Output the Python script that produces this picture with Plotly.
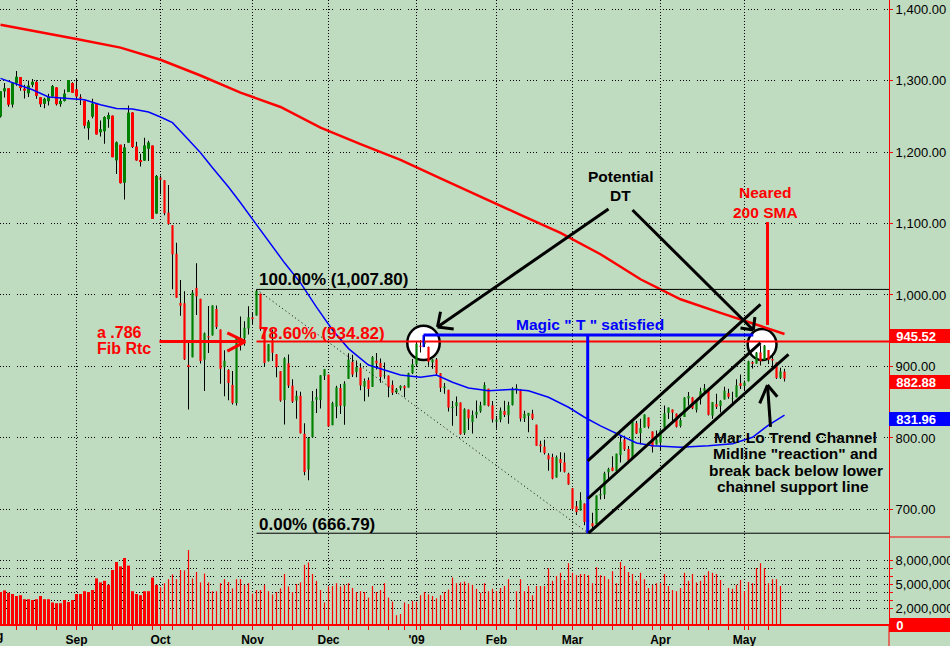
import plotly.graph_objects as go
from datetime import date

# ---------------- data ----------------
# trading days shown (Aug 5 2008 .. May 15 2009)
aug08 = [5, 6, 7, 8, 11, 12, 13, 14, 15, 18, 19, 20, 21, 22, 25, 26, 27, 28, 29]
sep08 = [2, 3, 4, 5, 8, 9, 10, 11, 12, 15, 16, 17, 18, 19, 22, 23, 24, 25, 26, 29, 30]
oct08 = [1, 2, 3, 6, 7, 8, 9, 10, 13, 14, 15, 16, 17, 20, 21, 22, 23, 24, 27, 28, 29, 30, 31]
nov08 = [3, 4, 5, 6, 7, 10, 11, 12, 13, 14, 17, 18, 19, 20, 21, 24, 25, 26, 28]
dec08 = [1, 2, 3, 4, 5, 8, 9, 10, 11, 12, 15, 16, 17, 18, 19, 22, 23, 24, 26, 29, 30, 31]
jan09 = [2, 5, 6, 7, 8, 9, 12, 13, 14, 15, 16, 20, 21, 22, 23, 26, 27, 28, 29, 30]
feb09 = [2, 3, 4, 5, 6, 9, 10, 11, 12, 13, 17, 18, 19, 20, 23, 24, 25, 26, 27]
mar09 = [2, 3, 4, 5, 6, 9, 10, 11, 12, 13, 16, 17, 18, 19, 20, 23, 24, 25, 26, 27, 30, 31]
apr09 = [1, 2, 3, 6, 7, 8, 9, 13, 14, 15, 16, 17, 20, 21, 22, 23, 24, 27, 28, 29, 30]
may09 = [1, 4, 5, 6, 7, 8, 11, 12, 13, 14, 15]

opens = [
    1249.5, 1284.9, 1289.2, 1266.3, 1296.3, 1304.8, 1288.6, 1282.1, 1293.9, 1298.1, 1276.7, 1267.3, 1271.1, 1277.6, 1290.5, 1267.0, 1271.3, 1283.8, 1296.5,
    1287.8, 1276.6, 1271.8, 1233.2, 1249.5, 1267.0, 1227.5, 1229.0, 1245.9, 1250.9, 1188.3, 1210.3, 1157.1, 1213.1, 1255.4, 1207.6, 1188.8, 1187.9, 1204.5, 1209.1, 1113.8,
    1164.2, 1160.6, 1115.2, 1097.6, 1057.6, 988.9, 988.4, 902.3, 912.8, 1010.0, 994.6, 909.5, 942.3, 943.5, 980.4, 951.7, 899.1, 895.2, 874.3, 848.9, 939.5, 939.4, 953.1,
    968.7, 971.3, 1001.8, 952.4, 907.4, 936.8, 917.2, 893.4, 853.1, 904.4, 873.2, 852.3, 859.0, 805.9, 755.8, 801.2, 853.4, 852.9, 886.9,
    888.6, 817.9, 843.6, 869.8, 844.4, 882.7, 906.5, 892.2, 898.4, 871.8, 881.1, 871.5, 908.2, 905.0, 887.0, 887.2, 874.3, 863.9, 869.5, 872.4, 870.6, 890.6,
    903.0, 929.2, 931.2, 927.5, 905.7, 909.9, 890.4, 869.8, 867.3, 842.0, 844.5, 849.6, 806.8, 839.7, 822.2, 832.5, 837.3, 845.7, 868.9, 845.7,
    823.1, 825.7, 837.8, 831.8, 846.1, 868.2, 866.9, 827.4, 831.0, 834.0, 818.6, 791.1, 787.9, 775.9, 773.3, 744.7, 770.6, 765.8, 749.9,
    729.6, 704.4, 698.6, 708.3, 684.0, 680.8, 679.3, 719.6, 720.9, 752.0, 758.8, 753.9, 776.0, 797.9, 784.6, 772.0, 820.6, 806.8, 814.5, 828.7, 809.1, 790.9,
    793.6, 814.5, 835.1, 839.8, 834.1, 816.8, 829.3, 855.3, 856.9, 839.4, 854.5, 865.2, 868.3, 831.3, 847.3, 844.6, 853.9, 862.8, 854.5, 856.9, 876.6,
    872.7, 879.2, 906.1, 904.0, 919.6, 909.0, 923.0, 910.5, 905.4, 884.2, 892.8,
]
highs = [
    1285.0, 1296.4, 1289.2, 1297.9, 1313.2, 1304.8, 1294.0, 1300.1, 1302.0, 1300.2, 1276.7, 1276.0, 1281.3, 1293.8, 1290.5, 1275.7, 1287.5, 1300.7, 1297.6,
    1303.0, 1280.6, 1271.8, 1244.9, 1274.4, 1268.7, 1243.9, 1249.9, 1255.1, 1250.9, 1214.8, 1210.3, 1211.1, 1265.1, 1255.5, 1214.5, 1197.4, 1220.0, 1215.8, 1209.1, 1168.0,
    1167.0, 1160.6, 1153.8, 1097.6, 1072.9, 1021.1, 1005.3, 936.4, 1006.9, 1044.3, 994.6, 947.7, 984.6, 985.4, 985.4, 951.7, 922.8, 896.3, 893.8, 940.5, 970.0, 963.2, 984.4,
    975.5, 1007.5, 1001.8, 952.4, 931.5, 951.9, 917.2, 893.4, 913.0, 916.9, 882.3, 865.9, 864.6, 820.5, 801.2, 865.6, 868.9, 887.7, 896.3,
    888.6, 850.5, 873.1, 875.6, 879.4, 918.6, 916.3, 908.3, 904.6, 883.2, 884.6, 914.7, 918.8, 911.0, 905.5, 887.4, 880.4, 869.8, 873.7, 873.7, 891.1, 910.3,
    934.7, 936.6, 943.9, 927.5, 910.0, 911.9, 890.4, 877.0, 867.3, 851.6, 858.1, 849.6, 841.7, 839.7, 838.6, 852.5, 850.5, 877.9, 868.9, 851.7,
    830.8, 842.6, 851.9, 850.6, 870.8, 875.0, 868.1, 838.2, 835.1, 839.4, 818.6, 796.2, 797.6, 778.7, 777.9, 775.5, 780.1, 779.4, 751.3,
    729.6, 711.7, 724.1, 708.3, 699.1, 695.3, 719.6, 731.9, 752.6, 758.3, 774.5, 778.1, 803.0, 803.2, 788.9, 823.0, 823.7, 826.8, 833.0, 828.7, 809.1, 810.5,
    813.6, 845.6, 842.5, 839.8, 834.1, 828.4, 856.9, 864.3, 856.9, 852.9, 870.4, 875.6, 868.3, 850.1, 861.8, 852.9, 871.8, 868.8, 864.5, 882.1, 888.7,
    880.5, 907.9, 907.7, 920.3, 929.6, 930.2, 923.0, 915.6, 905.4, 898.4, 897.0,
]
lows = [
    1248.3, 1276.1, 1263.2, 1262.1, 1292.8, 1285.6, 1274.9, 1276.8, 1290.7, 1274.5, 1263.1, 1261.2, 1265.2, 1277.6, 1264.9, 1263.2, 1270.7, 1283.8, 1282.7,
    1272.2, 1265.6, 1232.8, 1217.2, 1247.1, 1224.5, 1221.6, 1211.5, 1233.8, 1192.7, 1169.3, 1155.9, 1133.5, 1213.1, 1205.6, 1187.8, 1179.8, 1187.9, 1187.5, 1106.4, 1113.8,
    1140.8, 1111.4, 1098.1, 1008.0, 996.2, 971.0, 909.2, 839.8, 912.8, 972.1, 904.0, 865.8, 918.7, 943.5, 952.5, 875.8, 858.4, 852.9, 846.8, 845.3, 922.3, 928.9, 944.6,
    958.8, 971.3, 949.9, 899.7, 906.9, 907.5, 884.9, 850.5, 818.7, 869.9, 848.9, 826.8, 806.2, 747.8, 741.0, 801.2, 835.0, 841.4, 881.2,
    815.7, 817.9, 827.6, 833.6, 818.4, 882.7, 885.4, 885.1, 866.8, 851.4, 857.7, 871.5, 895.9, 877.4, 883.0, 857.1, 860.1, 861.4, 866.5, 857.1, 870.6, 889.4,
    899.4, 919.5, 927.3, 901.1, 896.8, 888.3, 864.3, 862.0, 836.9, 817.0, 830.7, 804.5, 804.3, 811.3, 806.1, 827.7, 835.4, 845.7, 844.2, 821.7,
    812.9, 822.0, 829.2, 819.9, 845.4, 861.7, 823.0, 822.3, 808.1, 825.2, 789.2, 780.1, 777.0, 754.3, 742.4, 744.7, 752.9, 751.8, 734.5,
    699.7, 692.3, 698.6, 677.9, 666.8, 672.9, 679.3, 713.9, 714.8, 742.5, 753.4, 749.9, 765.6, 781.8, 766.2, 772.0, 805.5, 791.4, 814.5, 813.4, 779.8, 790.9,
    783.3, 814.5, 826.7, 822.8, 814.5, 814.8, 829.3, 845.4, 840.3, 835.6, 847.0, 860.9, 831.5, 826.8, 840.6, 835.6, 853.9, 854.7, 847.1, 856.9, 868.5,
    866.1, 879.2, 897.3, 904.0, 901.4, 909.0, 903.3, 896.5, 882.5, 882.5, 878.9,
]
closes = [
    1284.9, 1289.2, 1266.1, 1296.3, 1305.3, 1289.6, 1285.8, 1292.9, 1298.2, 1278.6, 1266.7, 1274.5, 1277.7, 1292.2, 1266.8, 1271.5, 1281.7, 1300.7, 1282.8,
    1277.6, 1275.0, 1236.8, 1242.3, 1267.8, 1224.5, 1232.0, 1249.0, 1251.7, 1192.7, 1213.6, 1156.4, 1206.5, 1255.1, 1207.1, 1188.2, 1185.9, 1209.2, 1213.3, 1106.4, 1166.4,
    1161.1, 1114.3, 1099.2, 1056.9, 996.2, 984.9, 909.9, 899.2, 1003.4, 998.0, 907.8, 946.4, 940.6, 985.4, 955.1, 896.8, 908.1, 876.8, 848.9, 940.5, 930.1, 954.1, 968.8,
    966.3, 1005.8, 952.8, 904.9, 931.0, 919.2, 899.0, 852.3, 911.3, 873.3, 850.8, 859.1, 806.6, 752.4, 800.0, 851.8, 857.4, 887.7, 896.2,
    816.2, 848.8, 870.7, 845.2, 876.1, 909.7, 888.7, 899.2, 873.6, 879.7, 868.6, 913.2, 904.4, 885.3, 887.9, 871.6, 863.2, 868.2, 872.8, 869.4, 890.6, 903.3,
    931.8, 927.5, 934.7, 906.7, 909.7, 890.4, 870.3, 871.8, 842.6, 843.7, 850.1, 805.2, 840.2, 827.5, 832.0, 836.6, 845.7, 874.1, 845.1, 825.9,
    825.4, 838.5, 832.2, 845.9, 868.6, 869.9, 827.2, 833.7, 835.2, 826.8, 789.2, 788.4, 778.9, 770.1, 743.3, 773.1, 764.9, 752.8, 735.1,
    700.8, 696.3, 712.9, 682.6, 683.4, 676.5, 719.6, 721.4, 750.7, 756.6, 753.9, 778.1, 794.4, 784.0, 768.5, 822.9, 806.1, 813.9, 832.9, 815.9, 787.5, 797.9,
    811.1, 834.4, 842.5, 835.5, 815.6, 825.2, 856.6, 858.7, 841.5, 852.1, 865.3, 869.6, 832.4, 850.1, 843.6, 851.9, 866.2, 857.5, 855.2, 873.6, 872.8,
    877.5, 907.2, 903.8, 919.5, 907.4, 929.2, 909.2, 908.4, 883.9, 893.1, 882.88,
]
volumes = [
    4.0e6, 4.2e6, 3.9e6, 3.75e6, 3.5e6, 3.6e6, 3.1e6, 3.1e6, 3.0e6, 3.1e6, 3.5e6, 3.1e6, 3.1e6, 2.7e6, 2.6e6, 2.6e6, 3.0e6, 2.75e6, 3.0e6,
    3.75e6, 3.75e6, 4.1e6, 4.0e6, 4.25e6, 5.7e6, 5.2e6, 5.4e6, 4.9e6, 6.75e6, 7.75e6, 7.2e6, 8.25e6, 7.3e6, 4.1e6, 3.75e6, 3.6e6, 4.1e6, 4.1e6, 5.8e6, 4.9e6,
    4.6e6, 5.1e6, 5.6e6, 6.2e6, 5.6e6, 6.75e6, 6.7e6, 9.25e6, 5.7e6, 6.5e6, 5.2e6, 6.3e6, 5.2e6, 4.1e6, 4.1e6, 5.1e6, 5.6e6, 5.25e6, 4.45e6, 5.6e6, 5.6e6, 4.9e6, 5.1e6,
    3.8e6, 4.25e6, 4.25e6, 4.9e6, 4.1e6, 3.7e6, 4.0e6, 4.45e6, 6.25e6, 4.7e6, 4.0e6, 5.0e6, 5.2e6, 7.4e6, 7.7e6, 6.25e6, 5.4e6, 4.25e6, 2.7e6,
    4.7e6, 4.75e6, 5.1e6, 4.7e6, 4.9e6, 5.1e6, 4.5e6, 4.0e6, 4.1e6, 4.0e6, 3.3e6, 4.75e6, 4.0e6, 4.25e6, 5.1e6, 3.3e6, 2.8e6, 1.1e6, 1.25e6, 2.7e6, 2.5e6, 2.9e6,
    2.8e6, 3.6e6, 4.0e6, 3.7e6, 3.5e6, 3.2e6, 3.6e6, 4.0e6, 4.3e6, 5.8e6, 5.1e6, 5.2e6, 5.3e6, 5.1e6, 4.9e6, 4.4e6, 3.9e6, 5.1e6, 4.1e6, 4.4e6,
    4.1e6, 4.5e6, 4.75e6, 5.6e6, 0.0, 4.1e6, 5.6e6, 4.1e6, 4.75e6, 3.6e6, 4.75e6, 4.75e6, 4.75e6, 6.96e6, 5.4e6, 6.0e6, 6.4e6, 5.5e6, 7.6e6,
    6.4e6, 6.1e6, 6.25e6, 6.25e6, 6.1e6, 5.1e6, 7.1e6, 6.1e6, 6.0e6, 5.6e6, 6.6e6, 5.1e6, 7.75e6, 7.25e6, 6.5e6, 6.25e6, 5.4e6, 6.4e6, 5.6e6, 4.5e6, 4.9e6, 5.1e6,
    5.1e6, 6.25e6, 4.75e6, 4.25e6, 4.1e6, 4.5e6, 6.4e6, 5.4e6, 6.25e6, 5.2e6, 5.4e6, 6.1e6, 6.6e6, 6.4e6, 6.25e6, 5.5e6, 0.0, 4.5e6, 4.4e6, 4.9e6, 5.5e6,
    4.1e6, 5.25e6, 5.1e6, 7.0e6, 7.6e6, 7.0e6, 5.1e6, 5.6e6, 5.6e6, 4.75e6, 0.0,
]

# 50-day (blue) and 200-day (red) simple moving averages
sma50_dates = ["2008-08-05", "2008-08-15", "2008-08-21", "2008-08-28", "2008-09-04", "2008-09-10", "2008-09-16",
               "2008-09-22", "2008-09-26", "2008-10-01", "2008-10-06", "2008-10-10", "2008-10-15", "2008-10-20",
               "2008-10-24", "2008-10-29", "2008-11-03", "2008-11-07", "2008-11-13", "2008-11-19", "2008-11-25",
               "2008-12-02", "2008-12-08", "2008-12-15", "2008-12-19", "2008-12-26", "2009-01-05", "2009-01-09",
               "2009-01-15", "2009-01-22", "2009-01-29", "2009-02-06", "2009-02-12", "2009-02-20", "2009-02-27",
               "2009-03-05", "2009-03-11", "2009-03-18", "2009-03-24", "2009-03-30", "2009-04-08", "2009-04-20",
               "2009-04-28", "2009-05-05", "2009-05-11", "2009-05-15"]
sma50_vals = [1303, 1287, 1277, 1275, 1273, 1266, 1261, 1260, 1256, 1249, 1241, 1217, 1199, 1178, 1151, 1129,
              1106, 1077, 1045, 1017, 983, 951, 925, 902, 895, 888, 885, 888, 878, 870, 866, 868, 866, 857, 843,
              829, 817, 804, 793, 789, 787, 789, 792, 801, 818, 831.96]
sma200_dates = ["2008-08-05", "2008-08-19", "2008-09-02", "2008-09-17", "2008-10-01", "2008-10-15", "2008-10-29",
                "2008-11-12", "2008-11-26", "2008-12-11", "2008-12-26", "2009-01-12", "2009-01-27", "2009-02-10",
                "2009-02-25", "2009-03-11", "2009-03-25", "2009-04-08", "2009-04-23", "2009-05-07", "2009-05-15"]
sma200_vals = [1378, 1368, 1358, 1346, 1329, 1307, 1283, 1263, 1234, 1211, 1189, 1163, 1137, 1112, 1087, 1057,
               1022, 994, 975, 956, 945.52]

month_labels = ["Sep", "Oct", "Nov", "Dec", "'09", "Feb", "Mar", "Apr", "May"]
price_ticks = [700, 800, 900, 1000, 1100, 1200, 1300, 1400]
vol_ticks = [2e6, 5e6, 8e6]
vol_ticktext = ["2,000,000", "5,000,000", "8,000,000"]
vol_minor = [3e6, 4e6, 6e6, 7e6]

fib_high = 1007.80
fib_low = 666.79
fib_ratio = 0.786

# ---------------- build ----------------
month_blocks = [(2008, 8, aug08), (2008, 9, sep08), (2008, 10, oct08), (2008, 11, nov08), (2008, 12, dec08),
                (2009, 1, jan09), (2009, 2, feb09), (2009, 3, mar09), (2009, 4, apr09), (2009, 5, may09)]
dates = [date(y, m, d) for (y, m, days) in month_blocks for d in days]
n = len(dates)
for arr in (opens, highs, lows, closes, volumes):
    assert len(arr) == n, (len(arr), n)
assert len(sma50_dates) == len(sma50_vals) and len(sma200_dates) == len(sma200_vals)
date_str = [d.isoformat() for d in dates]
xpos = list(range(n))
pos_of = {s: i for i, s in enumerate(date_str)}

month_pos = [i for i in range(1, n) if dates[i].month != dates[i - 1].month]
week_pos = [i for i in range(1, n) if dates[i].weekday() < dates[i - 1].weekday()]

cutoff = date(2008, 10, 1)
body_w = [0.75 if d < cutoff else 0.55 for d in dates]
vol_w = [0.75 if d < cutoff else 0.3 for d in dates]
body_col = ["#008000" if c >= o else "#FF0000" for o, c in zip(opens, closes)]

fib_786 = round(fib_low + fib_ratio * (fib_high - fib_low), 2)
i_fib_hi = pos_of["2008-11-04"]
i_fib_lo = pos_of["2009-03-06"]
i_t = pos_of["2009-01-06"]
t_level = highs[i_t]

BG = "#C0DCC0"
FONT = "Liberation Sans, Arial, sans-serif"
XR = [-0.125, 222.125]
SPLIT = 87 / 624

fig = go.Figure()
fig.add_trace(go.Bar(x=xpos, y=[h - l for h, l in zip(highs, lows)], base=lows, width=0.25,
                     marker=dict(color="black", line=dict(width=0)), xaxis="x", yaxis="y", hoverinfo="skip"))
fig.add_trace(go.Bar(x=xpos, y=[c - o for o, c in zip(opens, closes)], base=opens, width=body_w,
                     marker=dict(color=body_col, line=dict(width=0)), xaxis="x", yaxis="y", hoverinfo="skip"))
fig.add_trace(go.Scatter(x=[pos_of[d] for d in sma200_dates], y=sma200_vals, mode="lines",
                         line=dict(color="#FF0000", width=2.5), xaxis="x", yaxis="y", hoverinfo="skip"))
fig.add_trace(go.Scatter(x=[pos_of[d] for d in sma50_dates], y=sma50_vals, mode="lines",
                         line=dict(color="#0000FF", width=1.5), xaxis="x", yaxis="y", hoverinfo="skip"))
fig.add_trace(go.Bar(x=xpos, y=volumes, width=vol_w, marker=dict(color="#FF0000", line=dict(width=0)),
                     xaxis="x2", yaxis="y2", hoverinfo="skip"))

HDASH = "1px,2px,1px,2px,1px,2px,1px,7px"
VDASH = "1px,2px"


def seg(x0, y0, x1, y1, color="black", width=3, dash="solid", layer="above"):
    return dict(type="line", xref="x", yref="y", x0=x0, y0=y0, x1=x1, y1=y1,
                line=dict(color=color, width=width, dash=dash), layer=layer)


shapes = [
    # circles (drawn under the candles)
    dict(type="circle", xref="x", yref="y", x0=101.7, x1=109.8, y0=909.0, y1=957.0,
         fillcolor="white", line=dict(color="black", width=2.5), layer="between"),
    dict(type="circle", xref="x", yref="y", x0=186.8, x1=194.0, y0=909.0, y1=952.4,
         fillcolor="white", line=dict(color="black", width=2.5), layer="between"),
    # fibonacci levels
    seg(i_fib_hi, fib_high, XR[1], fib_high, "black", 1),
    seg(i_fib_hi, fib_low, XR[1], fib_low, "black", 1),
    seg(i_fib_hi, fib_786, XR[1], fib_786, "#FF0000", 2),
    seg(i_fib_hi, fib_high, i_fib_lo, fib_low, "black", 1, "1px,3px"),
    # red arrow "a .786 Fib Rtc"
    seg(39.75, fib_786, 61.2, fib_786, "#FF0000", 3),
    seg(56.7, 947.0, 61.2, fib_786, "#FF0000", 3),
    seg(56.7, 921.5, 61.2, fib_786, "#FF0000", 3),
    # Magic T
    seg(i_t - 0.25, t_level, 188.2, t_level, "#0000FF", 3),
    seg(i_fib_lo - 0.2, t_level, i_fib_lo - 0.2, fib_low, "#0000FF", 3),
    seg(i_t - 0.25, t_level, i_t - 0.25, 927.0, "#0000FF", 2),
    # trend channel
    seg(i_fib_lo, fib_low, 197.0, 917.0, "black", 3),
    seg(146.8, 715.0, 190.0, 933.0, "black", 3),
    seg(146.8, 768.0, 190.0, 987.0, "black", 3),
    # Potential DT arrows
    seg(152.0, 1120.3, 109.25, 955.2, "black", 3),
    seg(110.0, 976.5, 109.25, 955.2, "black", 3),
    seg(113.3, 952.4, 109.25, 955.2, "black", 3),
    seg(158.0, 1118.9, 188.2, 951.0, "black", 3),
    seg(185.0, 953.8, 188.2, 951.0, "black", 3),
    seg(188.6, 969.2, 188.2, 951.0, "black", 3),
    # Neared 200 SMA
    seg(191.75, 1102.0, 191.75, 958.0, "#FF0000", 3),
    # up arrow to channel break
    seg(192.5, 815.4, 191.75, 874.0, "black", 3),
    seg(189.8, 848.5, 191.75, 874.0, "black", 3),
    seg(194.2, 857.8, 191.75, 874.0, "black", 3),
    # right-hand frame pieces
    dict(type="line", xref="paper", yref="paper", x0=1.0, x1=1.0, y0=-22 / 624, y1=0,
         line=dict(color="#FF0000", width=1)),
    dict(type="line", xref="paper", yref="paper", x0=1.0, x1=1.08, y0=SPLIT, y1=SPLIT,
         line=dict(color="#FF0000", width=1)),
]


def txt(x, y, s, color, size, xanchor="center", xshift=0):
    return dict(x=x, y=y, xref="x", yref="y", text="<b>" + s + "</b>", showarrow=False,
                font=dict(family=FONT, size=size, color=color), xanchor=xanchor, yanchor="middle",
                xshift=xshift)


annotations = [
    txt(i_fib_hi + 0.5, 1021.0, "100.00% (1,007.80)", "black", 17, "left", -2),
    txt(i_fib_hi + 0.5, 946.0, "78.60% (" + format(fib_786, ".2f") + ")", "#FF0000", 17, "left", -2),
    txt(i_fib_hi + 0.5, 678.3, "0.00% (666.79)", "black", 17, "left", -2),
    txt(24.0, 947.6, "a .786", "#FF0000", 16, "left", -2),
    txt(24.0, 924.5, "Fib Rtc", "#FF0000", 16, "left", -2),
    txt(147.4, 959.4, 'Magic " T " satisfied', "#0000FF", 15.5),
    txt(155.1, 1166.4, "Potential", "black", 15.5),
    txt(155.1, 1138.5, "DT", "black", 15.5),
    txt(191.25, 1142.7, "Neared", "#FF0000", 15.5),
    txt(191.25, 1115.4, "200 SMA", "#FF0000", 15.5),
    txt(198.75, 800.0, "Mar Lo Trend Channel", "black", 15.5),
    txt(198.75, 777.6, 'Midline "reaction" and', "black", 15.5),
    txt(198.75, 755.2, "break back below lower", "black", 15.5),
    txt(198.0, 731.5, "channel support line", "black", 15.5),
    # "Aug" label, mostly cut at the left edge
    dict(x=-8.5 / 889, y=-12 / 624, xref="paper", yref="paper", text="<b>Aug</b>", showarrow=False,
         font=dict(family=FONT, size=12, color="black"), xanchor="center", yanchor="middle"),
]


def v_fmt(v):
    return "\u00a0\u00a0" + (format(v, ".2f") if v else "0")


def valbox(v, yref, bg, yshift):
    return dict(x=1.0, xref="paper", y=v, yref=yref, text="<b>" + v_fmt(v) + "</b>", showarrow=False,
                xanchor="left", yanchor="middle", bgcolor=bg, width=61, height=14, borderpad=0,
                borderwidth=0, align="left", yshift=yshift,
                font=dict(family=FONT, size=13, color="white"))


annotations += [
    valbox(sma200_vals[-1], "y", "#FF0000", -2),
    valbox(closes[-1], "y", "#FF0000", -3),
    valbox(sma50_vals[-1], "y", "#0000FF", -4),
    valbox(0, "y2", "#FF0000", -1),
]

axis_font = dict(family=FONT, size=13, color="black")
fig.update_layout(
    template="none",
    width=950, height=646,
    margin=dict(l=0, r=61, t=0, b=22, pad=0),
    paper_bgcolor=BG, plot_bgcolor=BG,
    barmode="overlay", showlegend=False, hovermode=False,
    font=dict(family=FONT, color="black"),
    xaxis=dict(domain=[0, 1], range=XR, anchor="y", automargin=False, showticklabels=False, ticks="",
               tickmode="array", tickvals=month_pos, showgrid=True, gridcolor="black", gridwidth=1,
               griddash=VDASH, zeroline=False, showline=False),
    yaxis=dict(domain=[SPLIT, 1], range=[661.5, 1412.6], anchor="x", side="right", automargin=False,
               tickmode="array", tickvals=price_ticks, tickformat=",.2f", ticks="outside", ticklen=3,
               tickcolor="#FF0000", showline=True, linecolor="#FF0000", linewidth=1, showgrid=True,
               gridcolor="black", gridwidth=1, griddash=HDASH, zeroline=False, tickfont=axis_font),
    xaxis2=dict(domain=[0, 1], range=XR, anchor="y2", matches="x", automargin=False, tickmode="array",
                tickvals=month_pos, ticktext=month_labels, ticks="outside", ticklen=4, tickcolor="#FF0000",
                showline=True, linecolor="#FF0000", linewidth=2, showgrid=True, gridcolor="black",
                gridwidth=1, griddash=VDASH, zeroline=False,
                minor=dict(tickmode="array", tickvals=week_pos, ticks="outside", ticklen=4,
                           tickcolor="#FF0000", showgrid=False),
                tickfont=dict(family=FONT, size=12, color="black", weight="bold")),
    yaxis2=dict(domain=[0, SPLIT], range=[0, 10.875e6], anchor="x2", side="right", automargin=False,
                tickmode="array", tickvals=vol_ticks, ticktext=vol_ticktext, ticks="outside", ticklen=3,
                tickcolor="#FF0000", showline=True, linecolor="#FF0000", linewidth=1, showgrid=True,
                gridcolor="black", gridwidth=1, griddash=HDASH, zeroline=False, tickfont=axis_font,
                minor=dict(tickmode="array", tickvals=vol_minor, ticks="outside", ticklen=3,
                           tickcolor="#FF0000", showgrid=True, gridcolor="black", gridwidth=1,
                           griddash=HDASH)),
    shapes=shapes,
    annotations=annotations,
)

fig.write_html("out.html", config={"displayModeBar": False, "staticPlot": True},
               post_script="document.body.style.margin='0px';")
